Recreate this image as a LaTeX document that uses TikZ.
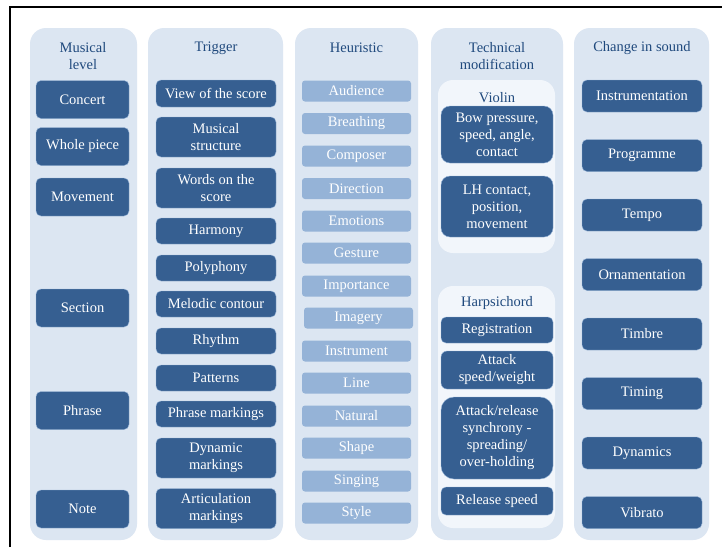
\documentclass[tikz,border=0pt]{standalone}
\usepackage{fontspec}
\setmainfont{Liberation Serif}
\usepackage{tikz}
\usetikzlibrary{positioning}
\definecolor{ThemeBlue}{RGB}{54, 95, 145}
\definecolor{ThemeMid}{RGB}{149, 179, 215}
\definecolor{ThemePale}{RGB}{220, 230, 242}
\definecolor{ThemeWhite}{RGB}{242, 246, 251}
\definecolor{ThemeText}{RGB}{31, 73, 125}

\tikzset{
  panel/.style={fill=ThemePale, rounded corners=16pt},
  subpanel/.style={fill=ThemeWhite, rounded corners=15pt},
  head/.style={text=ThemeText, align=center, font=\fontsize{14.5}{17}\selectfont},
  item/.style={fill=ThemeBlue, draw=ThemeMid, line width=0.4pt, text=white, align=center,
    rounded corners=5pt, inner sep=0pt, font=\fontsize{14.5}{17}\selectfont},
  cue/.style={fill=ThemeMid, text=white, align=center, rounded corners=3pt,
    inner sep=0pt, minimum width=109pt, minimum height=21pt, font=\fontsize{14.5}{17}\selectfont},
}

\begin{document}
\begin{tikzpicture}[x=1pt, y=-1pt]
    \useasboundingbox (0,0) rectangle (722,547);
    \fill[white] (0,0) rectangle (722,547);
    \draw[line width=2pt] (10,547) -- (10,7) -- (722,7);

    % Columns
    \fill[panel] (30,28) rectangle (137,540);
    \fill[panel] (148,28) rectangle (283,540);
    \fill[panel] (295,28) rectangle (418,540);
    \fill[panel] (431,28) rectangle (563,540);
    \fill[panel] (574,28) rectangle (709,540);
    \fill[subpanel] (438,80) rectangle (555,253);
    \fill[subpanel] (438,286) rectangle (555,528);

    % Musical level
    \node[head] (lvl) at (83,56) {Musical\\level};
    \node[item, minimum width=93pt, minimum height=38pt] (concert) at (82.5,99.5) {Concert};
    \node[item, minimum width=93pt, minimum height=38pt] (whole) at (82.5,146.5) {Whole piece};
    \node[item, minimum width=93pt, minimum height=38pt] (movement) at (82.5,197) {Movement};
    \node[item, minimum width=93pt, minimum height=38pt] (section) at (82.5,308) {Section};
    \node[item, minimum width=93pt, minimum height=38pt] (phrase) at (82.5,410.5) {Phrase};
    \node[item, minimum width=93pt, minimum height=38pt] (note) at (82.5,509) {Note};

    % Trigger
    \node[head] (trig) at (216,48) {Trigger};
    \node[item, minimum width=120pt, minimum height=27pt] (view) at (216,93.5) {View of the score};
    \node[item, minimum width=120pt, minimum height=40pt] (struct) at (216,137) {Musical\\structure};
    \node[item, minimum width=120pt, minimum height=40pt] (words) at (216,188) {Words on the\\score};
    \node[item, minimum width=120pt, minimum height=26pt] (harmony) at (216,231) {Harmony};
    \node[item, minimum width=120pt, minimum height=26pt] (poly) at (216,268) {Polyphony};
    \node[item, minimum width=120pt, minimum height=26pt] (melodic) at (216,304) {Melodic contour};
    \node[item, minimum width=120pt, minimum height=26pt] (rhythm) at (216,341) {Rhythm};
    \node[item, minimum width=120pt, minimum height=26pt] (patterns) at (216,378) {Patterns};
    \node[item, minimum width=120pt, minimum height=26pt] (phrasemk) at (216,414) {Phrase markings};
    \node[item, minimum width=120pt, minimum height=40pt] (dynmk) at (216,458) {Dynamic\\markings};
    \node[item, minimum width=120pt, minimum height=40pt] (artmk) at (216,508.5) {Articulation\\markings};

    % Heuristic
    \node[head] (heur) at (356.5,48) {Heuristic};
    \node[cue] (audience) at (356.5,91) {Audience};
    \node[cue] (breathing) at (356.5,123.5) {Breathing};
    \node[cue] (composer) at (356.5,156) {Composer};
    \node[cue] (direction) at (356.5,188.5) {Direction};
    \node[cue] (emotions) at (356.5,221) {Emotions};
    \node[cue] (gesture) at (356.5,253) {Gesture};
    \node[cue] (importance) at (356.5,286) {Importance};
    \node[cue] (imagery) at (358.5,318) {Imagery};
    \node[cue] (instrument) at (356.5,351) {Instrument};
    \node[cue] (line) at (356.5,383) {Line};
    \node[cue] (natural) at (356.5,416) {Natural};
    \node[cue] (shape) at (356.5,448) {Shape};
    \node[cue] (singing) at (356.5,481) {Singing};
    \node[cue] (style) at (356.5,513) {Style};

    % Technical modification
    \node[head] (tech) at (497,56.5) {Technical\\modification};
    \node[head] (violin) at (497,98) {Violin};
    \node[item, rounded corners=9pt, minimum width=112pt, minimum height=57pt] (bow) at (497,134.5) {Bow pressure,\\speed, angle,\\contact};
    \node[item, rounded corners=9pt, minimum width=112pt, minimum height=61pt] (lh) at (497,206.5) {LH contact,\\position,\\movement};
    \node[head] (harpsi) at (497,303) {Harpsichord};
    \node[item, minimum width=112pt, minimum height=26pt] (reg) at (497,330) {Registration};
    \node[item, rounded corners=6pt, minimum width=112pt, minimum height=38pt] (attack) at (497,370) {Attack\\speed/weight};
    \node[item, rounded corners=13pt, minimum width=112pt, minimum height=82pt] (sync) at (497,438) {Attack/release\\synchrony -\\spreading/\\over-holding};
    \node[item, minimum width=112pt, minimum height=28pt] (release) at (497,501) {Release speed};

    % Change in sound
    \node[head] (change) at (642,48) {Change in sound};
    \node[item, minimum width=120pt, minimum height=32pt] (instr) at (642,96) {Instrumentation};
    \node[item, minimum width=120pt, minimum height=32pt] (prog) at (642,155.5) {Programme};
    \node[item, minimum width=120pt, minimum height=32pt] (tempo) at (642,215) {Tempo};
    \node[item, minimum width=120pt, minimum height=32pt] (orn) at (642,274.5) {Ornamentation};
    \node[item, minimum width=120pt, minimum height=32pt] (timbre) at (642,334) {Timbre};
    \node[item, minimum width=120pt, minimum height=32pt] (timing) at (642,393.5) {Timing};
    \node[item, minimum width=120pt, minimum height=32pt] (dyn) at (642,453) {Dynamics};
    \node[item, minimum width=120pt, minimum height=32pt] (vibrato) at (642,512.5) {Vibrato};
\end{tikzpicture}
\end{document}
